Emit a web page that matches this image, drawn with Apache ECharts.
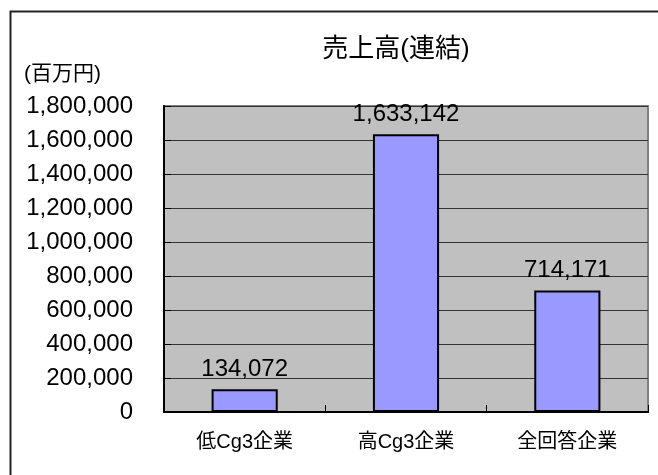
<!DOCTYPE html>
<html>
<head>
<meta charset="utf-8">
<script src="https://cdn.jsdelivr.net/npm/echarts@6/dist/echarts.min.js"></script>
<style>
  html, body { margin: 0; padding: 0; background: #fff; }
  #chart { width: 658px; height: 475px; }
</style>
</head>
<body>
<div id="chart"></div>
<script>
// 売上高(連結) by company group, in millions of yen
const categories = ['低Cg3企業', '高Cg3企業', '全回答企業'];
const sales = [134072, 1633142, 714171];
const yMin = 0;
const yMax = 1800000;
const yStep = 200000;

const FONT = '"Liberation Sans", "Noto Sans CJK JP", sans-serif';
const withCommas = v => String(v).replace(/\B(?=(\d{3})+(?!\d))/g, ',');

const chart = echarts.init(document.getElementById('chart'), null, { renderer: 'canvas' });

chart.setOption({
  backgroundColor: '#ffffff',
  animation: false,
  title: {
    text: '売上高(連結)',
    left: 391,
    top: 32,
    textAlign: 'center',
    textStyle: { fontFamily: FONT, fontSize: 26, fontWeight: 'normal', color: '#000' }
  },
  graphic: [
    {
      type: 'rect',
      left: 8, top: 9,
      shape: { width: 700, height: 520 },
      style: { fill: 'none', stroke: '#222', lineWidth: 2 },
      silent: true
    },
    {
      type: 'text',
      left: 24, top: 64,
      style: { text: '(百万円)', font: '21px ' + FONT, fill: '#000' },
      silent: true
    }
  ],
  grid: {
    left: 164, top: 106, right: 10, bottom: 63,
    show: true,
    backgroundColor: '#c0c0c0',
    borderColor: '#808080',
    borderWidth: 2
  },
  xAxis: {
    type: 'category',
    data: categories,
    axisLine: { show: true, lineStyle: { color: '#000', width: 2 } },
    axisTick: { show: true, inside: true, length: 7, alignWithLabel: false, lineStyle: { color: '#000' } },
    axisLabel: { margin: 20, fontFamily: FONT, fontSize: 20, color: '#000' },
    splitLine: { show: false }
  },
  yAxis: {
    type: 'value',
    min: yMin,
    max: yMax,
    interval: yStep,
    axisLine: { show: true, lineStyle: { color: '#000', width: 2 } },
    axisTick: { show: true, inside: true, length: 7, lineStyle: { color: '#000' } },
    axisLabel: {
      margin: 31,
      fontFamily: FONT,
      fontSize: 24,
      color: '#000',
      formatter: v => withCommas(v)
    },
    splitLine: { show: true, lineStyle: { color: '#333333', width: 1 } }
  },
  series: [
    {
      type: 'bar',
      data: sales,
      barWidth: '41%',
      itemStyle: { color: '#9999ff', borderColor: '#000', borderWidth: 2 },
      label: {
        show: true,
        position: 'top',
        distance: 8,
        fontFamily: FONT,
        fontSize: 24,
        color: '#000',
        formatter: p => withCommas(p.value)
      }
    }
  ]
});
</script>
</body>
</html>
